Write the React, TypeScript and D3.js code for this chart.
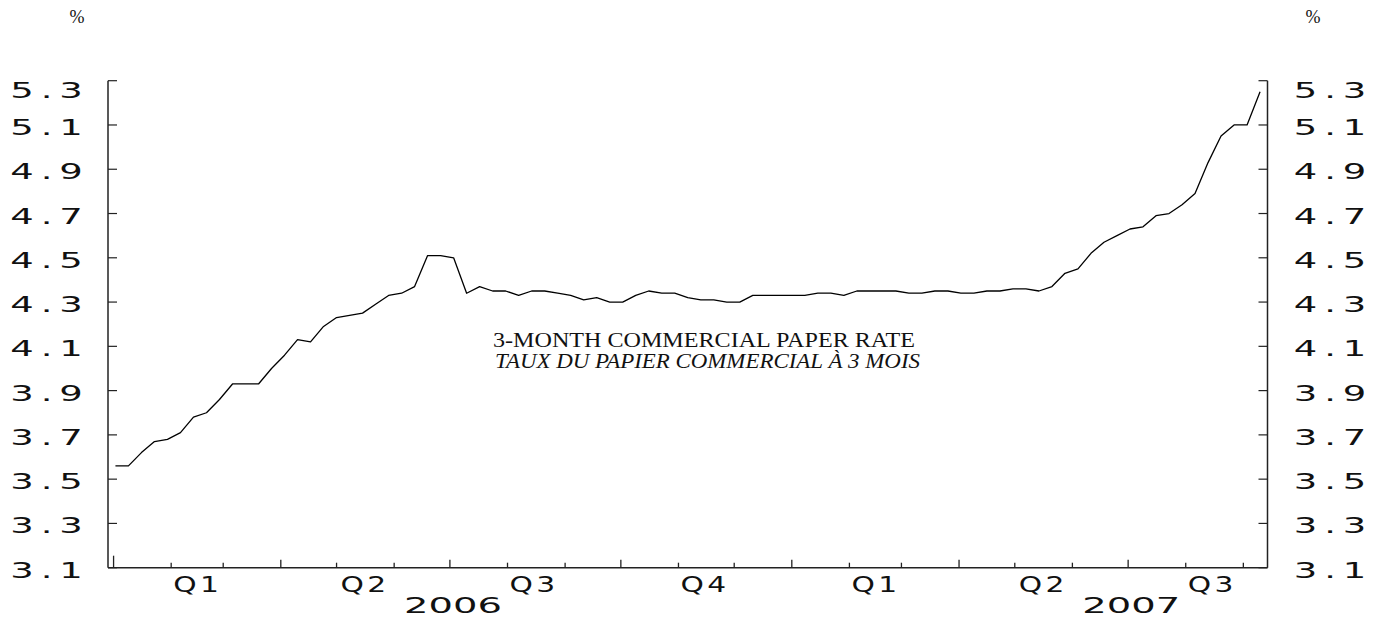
import React, { useRef, useEffect } from 'react';
import * as d3 from 'd3';

// weekly observations, first week starting Mon 2006-01-02
const startDate = new Date(2006, 0, 2);
const rateValues = [
  3.56, 3.56, 3.62, 3.67, 3.68, 3.71, 3.78, 3.8, 3.86, 3.93,
  3.93, 3.93, 4.0, 4.06, 4.13, 4.12, 4.19, 4.23, 4.24, 4.25,
  4.29, 4.33, 4.34, 4.37, 4.51, 4.51, 4.5, 4.34, 4.37, 4.35,
  4.35, 4.33, 4.35, 4.35, 4.34, 4.33, 4.31, 4.32, 4.3, 4.3,
  4.33, 4.35, 4.34, 4.34, 4.32, 4.31, 4.31, 4.3, 4.3, 4.33,
  4.33, 4.33, 4.33, 4.33, 4.34, 4.34, 4.33, 4.35, 4.35, 4.35,
  4.35, 4.34, 4.34, 4.35, 4.35, 4.34, 4.34, 4.35, 4.35, 4.36,
  4.36, 4.35, 4.37, 4.43, 4.45, 4.52, 4.57, 4.6, 4.63, 4.64,
  4.69, 4.7, 4.74, 4.79, 4.93, 5.05, 5.1, 5.1, 5.25,
];

const yTicks = [3.1, 3.3, 3.5, 3.7, 3.9, 4.1, 4.3, 4.5, 4.7, 4.9, 5.1, 5.3];
const quarterLabels = ['Q1', 'Q2', 'Q3', 'Q4', 'Q1', 'Q2', 'Q3'];
const yearLabels = ['2006', '2007'];
const titleEn = '3-MONTH COMMERCIAL PAPER RATE';
const titleFr = 'TAUX DU PAPIER COMMERCIAL À 3 MOIS';

const width = 1380;
const height = 619;

type G = d3.Selection<SVGGElement, unknown, null, undefined>;

// plotter style label: fixed pitch, wide glyphs
function plotterText(g: G, str: string, cx: number, baseline: number, size: number, sx: number) {
  const pitch = 24.5;
  const chars = str.split('');
  chars.forEach((c, i) => {
    const px = cx + (i - (chars.length - 1) / 2) * pitch;
    g.append('text')
      .attr('transform', `translate(${px},${baseline}) scale(${sx},1)`)
      .attr('text-anchor', 'middle')
      .attr('font-family', '"DejaVu Sans", sans-serif')
      .attr('font-size', size)
      .attr('fill', '#111')
      .text(c);
  });
}

const App: React.FC = () => {
  const svgRef = useRef<SVGSVGElement>(null);

  useEffect(() => {
    if (!svgRef.current) return;
    d3.select(svgRef.current).selectAll('*').remove();

    const svg = d3.select(svgRef.current).attr('width', width).attr('height', height);

    const left = 108;
    const right = 1267.5;
    const top = 80.7;
    const bottom = 567.7;

    const x = d3
      .scaleTime()
      .domain([new Date(2005, 11, 29), new Date(2007, 8, 14)])
      .range([left, right]);

    const y = d3.scaleLinear().domain([3.1, 5.3]).range([bottom, top]);

    const data = rateValues.map((v, i) => ({ date: d3.timeDay.offset(startDate, i * 7), value: v }));

    const axisColor = '#222';

    // frame: left, right, bottom
    svg.append('line').attr('x1', left).attr('x2', left).attr('y1', top).attr('y2', bottom)
      .attr('stroke', axisColor).attr('stroke-width', 1.5);
    svg.append('line').attr('x1', right).attr('x2', right).attr('y1', top).attr('y2', bottom)
      .attr('stroke', axisColor).attr('stroke-width', 1.5);
    svg.append('line').attr('x1', left).attr('x2', right).attr('y1', bottom).attr('y2', bottom)
      .attr('stroke', axisColor).attr('stroke-width', 1.5);

    // y ticks on both sides
    const yg = svg.append('g') as G;
    yTicks.forEach((t) => {
      const ty = y(t);
      yg.append('line').attr('x1', left).attr('x2', left + 9).attr('y1', ty).attr('y2', ty)
        .attr('stroke', axisColor).attr('stroke-width', 1.2);
      yg.append('line').attr('x1', right - 9).attr('x2', right).attr('y1', ty).attr('y2', ty)
        .attr('stroke', axisColor).attr('stroke-width', 1.2);
      const by = Math.max(ty + 10, 98);
      const lbl = t.toFixed(1);
      plotterText(yg, lbl, 46.5, by, 20.5, 1.8);
      plotterText(yg, lbl, 1330, by, 20.5, 1.8);
    });

    // monthly ticks on x axis
    const months = d3.timeMonth.range(new Date(2006, 0, 1), new Date(2007, 8, 2));
    svg.append('g').selectAll('line').data(months).enter().append('line')
      .attr('x1', (d) => x(d)).attr('x2', (d) => x(d))
      .attr('y1', bottom)
      .attr('y2', (d) => {
        if (d.getMonth() === 0 && d.getFullYear() === 2006) return bottom - 12;
        if (d.getMonth() % 3 === 0) return bottom - 8;
        return bottom - 5;
      })
      .attr('stroke', axisColor).attr('stroke-width', 1.3);

    // quarter labels centred in each quarter
    const xg = svg.append('g') as G;
    const quarters = d3.timeMonth.every(3)!.range(new Date(2006, 0, 1), new Date(2007, 7, 1));
    quarters.forEach((d, i) => {
      const cx = x(new Date(d.getTime() + 45.5 * 864e5));
      plotterText(xg, quarterLabels[i], cx - 1, 592, 20.5, 1.45);
    });

    // year labels at mid year
    yearLabels.forEach((yr) => {
      plotterText(xg, yr, x(new Date(+yr, 6, 1)) + 3, 612.5, 22, 1.75);
    });

    // % units
    [77, 1313].forEach((px) => {
      svg.append('text').attr('x', px).attr('y', 23).attr('text-anchor', 'middle')
        .attr('font-family', '"Liberation Serif", serif').attr('font-size', 18)
        .attr('fill', '#111').text('%');
    });

    // title
    svg.append('text').attr('x', 704).attr('y', 347).attr('text-anchor', 'middle')
      .attr('font-family', '"Liberation Serif", serif').attr('font-size', 20)
      .attr('textLength', 422).attr('lengthAdjust', 'spacingAndGlyphs')
      .attr('fill', '#111').text(titleEn);
    svg.append('text').attr('x', 707.5).attr('y', 368).attr('text-anchor', 'middle')
      .attr('font-family', '"Liberation Serif", serif').attr('font-size', 20)
      .attr('font-style', 'italic')
      .attr('textLength', 425).attr('lengthAdjust', 'spacingAndGlyphs')
      .attr('fill', '#111').text(titleFr);

    // series line
    const line = d3
      .line<{ date: Date; value: number }>()
      .x((d) => x(d.date))
      .y((d) => y(d.value));

    svg.append('path').datum(data).attr('d', line)
      .attr('fill', 'none').attr('stroke', '#000').attr('stroke-width', 1.3)
      .attr('stroke-linejoin', 'round');
  }, []);

  return (
    <div style={{ position: 'absolute', left: 0, top: 0 }}>
      <svg ref={svgRef}></svg>
    </div>
  );
};

export default App;
